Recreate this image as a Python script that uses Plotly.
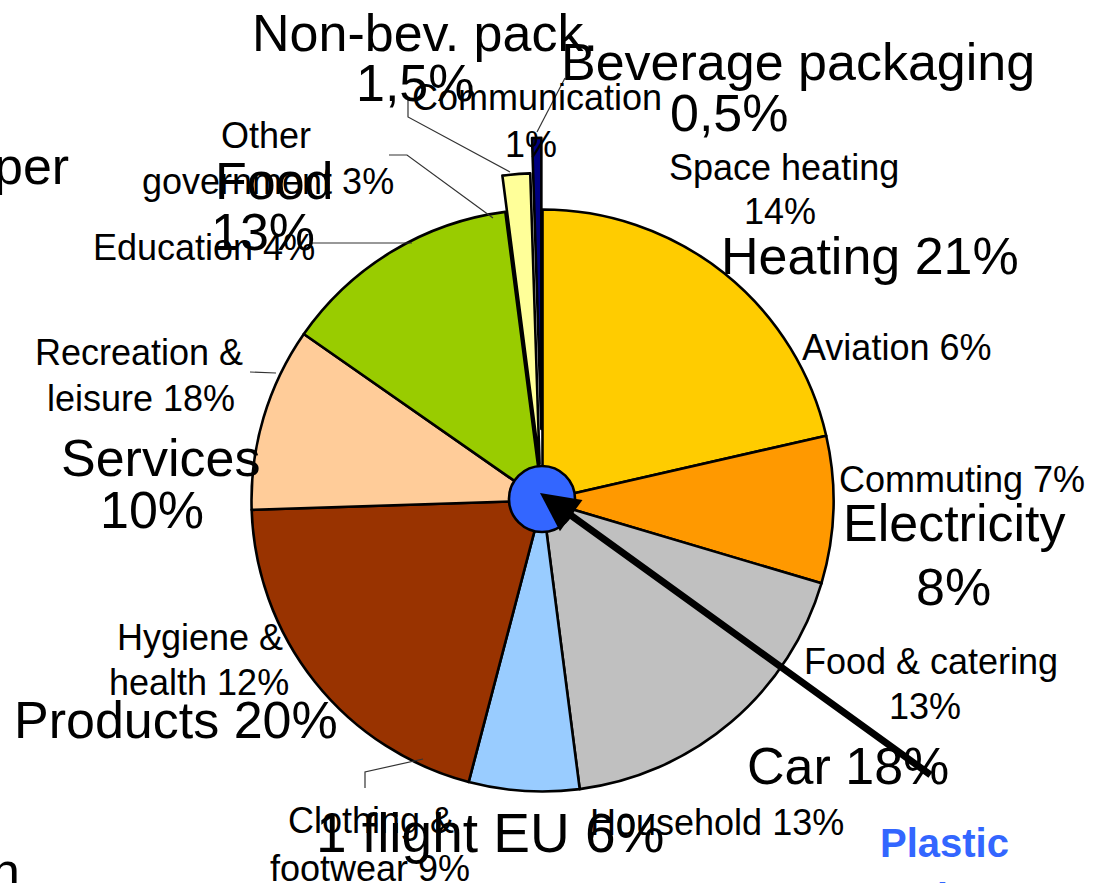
import plotly.graph_objects as go

W, H = 1093, 883
FONT = "Liberation Sans, Arial, sans-serif"

# Main footprint split (%), clockwise from 12 o'clock
categories = ["Heating", "Electricity", "Car", "1 flight EU", "Products",
              "Services", "Food", "Non-bev. pack.", "Beverage packaging"]
shares = [21, 8, 18, 6, 20, 10, 13, 1.5, 0.5]

# Finer breakdown written around the pie (%)
sub_names = ["Space heating", "Aviation", "Commuting", "Food & catering",
             "Household", "Clothing &\nfootwear", "Hygiene &\nhealth",
             "Recreation &\nleisure", "Education", "Other\ngovernment",
             "Communication"]
sub_shares = [14, 6, 7, 13, 13, 9, 12, 18, 4, 3, 1]

# ---- styling -------------------------------------------------------------
slice_colors = ["#FFCC00", "#FF9900", "#C0C0C0", "#99CCFF", "#993300",
                "#FFCC99", "#99CC00", "#FFFF99", "#000080"]
slice_pull = [0, 0, 0, 0, 0, 0, 0, 0.125, 0.246]
main_pct_newline = [False, True, False, False, False, True, True, True, True]
sub_pct_newline = [True, False, False, True, False, False, False, False,
                   False, False, True]
main_font = [52, 52, 52, 55, 52, 52, 52, 52, 52]

# pie placement in pixels
PIE_CX, PIE_CY, PIE_R = 542.5, 500.5, 291
DOT_CX, DOT_CY, DOT_R = 542, 499, 33

# label line centres in pixels (one pair per text line)
main_pos = [
    [(870, 256)],
    [(954, 523), (953, 587)],
    [(848, 766)],
    [(490, 833)],
    [(176, 720)],
    [(160, 458), (152, 510)],
    [(274, 181), (263, 232)],
    [(425, 33), (415, 83)],
    [(798, 62), (729, 113)],
]
sub_pos = [
    [(784, 168), (780, 212)],
    [(896, 347)],
    [(962, 480)],
    [(931, 661), (925, 706)],
    [(717, 822)],
    [(371, 820), (370, 868)],
    [(200, 637), (199, 682)],
    [(139, 353), (141, 398)],
    [(204, 247)],
    [(266, 136), (268, 181)],
    [(537, 98), (531, 145)],
]
leaders = [
    [(408, 98), (408, 117), (510, 172)],
    [(565, 78), (537, 132)],
    [(389, 155), (407, 155), (493, 218)],
    [(310, 243), (412, 243)],
    [(250, 372), (276, 373)],
    [(365, 788), (365, 772), (423, 759)],
]


def px(x):
    return x / W


def py(y):
    return 1 - y / H


def pct(v):
    s = f"{v:g}".replace(".", ",")
    return s + "%"


def label_lines(name, value, newline):
    text = name + ("\n" if newline else " ") + pct(value)
    return text.split("\n")


def pie_domain(cx, cy, half):
    return dict(x=[px(cx - half), px(cx + half)],
                y=[py(cy + half), py(cy - half)])


max_pull = max(slice_pull)
main_half = PIE_R * (1 + max_pull)

fig = go.Figure()
fig.add_trace(go.Pie(
    labels=categories, values=shares, sort=False, direction="clockwise",
    rotation=0, pull=slice_pull, textinfo="none", hoverinfo="label+percent",
    marker=dict(colors=slice_colors, line=dict(color="black", width=2.6)),
    domain=pie_domain(PIE_CX, PIE_CY, main_half), showlegend=False,
))
fig.add_trace(go.Pie(
    labels=["Plastic products"], values=[1], sort=False, textinfo="none",
    hoverinfo="label",
    marker=dict(colors=["#3366FF"], line=dict(color="black", width=2.6)),
    domain=pie_domain(DOT_CX, DOT_CY, DOT_R), showlegend=False,
))

annotations = []


def add_lines(lines, positions, size, color="black", bold=False):
    for text, (x, y) in zip(lines, positions):
        t = f"<b>{text}</b>" if bold else text
        annotations.append(dict(
            text=t, x=px(x), y=py(y), xref="paper", yref="paper",
            xanchor="center", yanchor="middle", showarrow=False,
            font=dict(family=FONT, size=size, color=color),
        ))


for name, val, nl, pos in zip(sub_names, sub_shares, sub_pct_newline, sub_pos):
    add_lines(label_lines(name, val, nl), pos, 36)

for name, val, nl, pos, fs in zip(categories, shares, main_pct_newline,
                                  main_pos, main_font):
    add_lines(label_lines(name, val, nl), pos, fs)

# partly visible side texts
annotations.append(dict(text="per", x=px(71), y=py(166), xref="paper",
                        yref="paper", xanchor="right", yanchor="middle",
                        showarrow=False,
                        font=dict(family=FONT, size=52, color="black")))
annotations.append(dict(text="n", x=px(22), y=py(871), xref="paper",
                        yref="paper", xanchor="right", yanchor="middle",
                        showarrow=False,
                        font=dict(family=FONT, size=52, color="black")))
add_lines(["Plastic", "products"], [(944, 843), (944, 898)], 40,
          color="#3366FF", bold=True)

# arrow pointing at the plastic share in the centre
annotations.append(dict(
    text="", x=px(540), y=py(493), xref="paper", yref="paper",
    ax=392, ay=283, axref="pixel", ayref="pixel", showarrow=True,
    arrowhead=2, arrowsize=1.1, arrowwidth=7, arrowcolor="black", standoff=0,
))

shapes = []
for pts in leaders:
    path = "M " + " L ".join(f"{px(x):.5f},{py(y):.5f}" for x, y in pts)
    shapes.append(dict(type="path", path=path, xref="paper", yref="paper",
                       line=dict(color="#333333", width=1.2)))

fig.update_layout(
    width=W, height=H, margin=dict(l=0, r=0, t=0, b=0),
    paper_bgcolor="white", plot_bgcolor="white", showlegend=False,
    annotations=annotations, shapes=shapes,
)

fig.write_html("out.html")
